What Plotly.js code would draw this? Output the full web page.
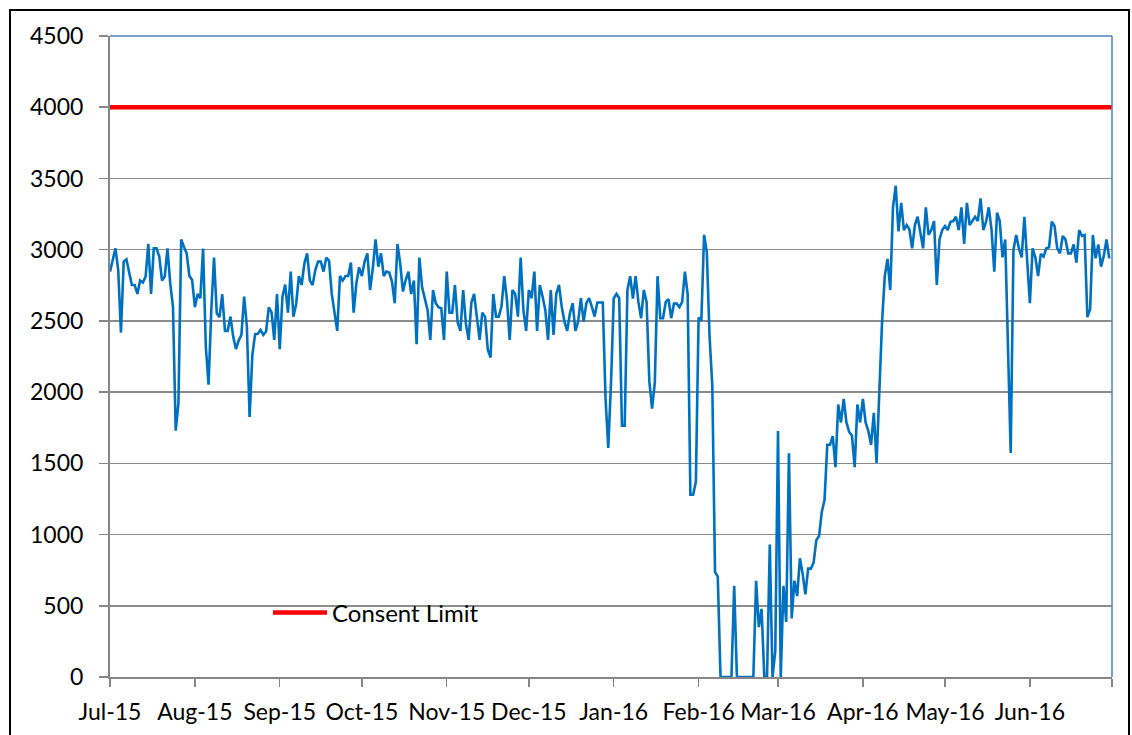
<!DOCTYPE html>
<html>
<head>
<meta charset="utf-8">
<script src="https://cdn.plot.ly/plotly-3.0.1.min.js"></script>
<style>
  html, body { margin: 0; padding: 0; background: #fff; }
  #chart { width: 1132px; height: 735px; }
</style>
</head>
<body>
<div id="chart"></div>
<script>
// ---- Data ----
const startDate = '2015-07-01';
const dailyValues = [
  2846, 2930, 3009, 2857, 2418, 2916, 2932, 2840, 2752, 2752,
  2689, 2783, 2769, 2811, 3040, 2689, 3009, 3009, 2951, 2783,
  2811, 3009, 2764, 2600, 1729, 1923, 3072, 3021, 2974, 2815,
  2787, 2596, 2689, 2659, 3007, 2320, 2052, 2577, 2944, 2554,
  2526, 2687, 2430, 2430, 2530, 2390, 2302, 2362, 2402, 2671,
  2460, 1825, 2262, 2407, 2409, 2437, 2402, 2425, 2594, 2561,
  2367, 2689, 2302, 2671, 2755, 2558, 2846, 2530, 2619, 2815,
  2752, 2904, 2974, 2783, 2752, 2857, 2916, 2916, 2846, 2944,
  2923, 2689, 2554, 2430, 2815, 2783, 2815, 2815, 2909, 2558,
  2764, 2876, 2815, 2916, 2974, 2717, 2869, 3072, 2881, 2974,
  2815, 2846, 2839, 2776, 2624, 3040, 2904, 2706, 2787, 2846,
  2689, 2783, 2337, 2944, 2736, 2647, 2577, 2367, 2717, 2624,
  2596, 2589, 2367, 2846, 2558, 2558, 2752, 2488, 2430, 2717,
  2479, 2367, 2629, 2689, 2530, 2367, 2558, 2530, 2297, 2243,
  2689, 2530, 2530, 2600, 2815, 2647, 2367, 2717, 2689, 2530,
  2944, 2577, 2430, 2717, 2659, 2846, 2430, 2752, 2671, 2577,
  2367, 2717, 2402, 2689, 2752, 2600, 2495, 2430, 2554, 2624,
  2430, 2495, 2659, 2495, 2624, 2659, 2600, 2530, 2629, 2629,
  2629, 1958, 1608, 2063, 2659, 2689, 2659, 1764, 1764, 2717,
  2814, 2657, 2814, 2633, 2519, 2717, 2633, 2077, 1884, 2065,
  2814, 2519, 2519, 2633, 2652, 2519, 2621, 2621, 2597, 2633,
  2846, 2687, 1280, 1280, 1370, 2524, 2500, 3104, 2983, 2391,
  2045, 737, 705, 0, 0, 0, 0, 0, 640, 0,
  0, 0, 0, 0, 0, 0, 676, 350, 478, 0,
  0, 930, 0, 181, 1727, 0, 640, 386, 1570, 411,
  676, 568, 833, 725, 580, 761, 761, 802, 961, 990,
  1159, 1244, 1630, 1630, 1691, 1473, 1913, 1787, 1952, 1787,
  1720, 1696, 1473, 1913, 1787, 1952, 1787, 1727, 1630, 1855,
  1502, 2005, 2488, 2814, 2935, 2717, 3297, 3449, 3128, 3329,
  3138, 3173, 3142, 3009, 3173, 3231, 3103, 3009, 3297, 3103,
  3138, 3201, 2752, 3072, 3138, 3166, 3138, 3196, 3201, 3231,
  3138, 3297, 3040, 3329, 3173, 3201, 3231, 3201, 3360, 3138,
  3196, 3297, 3138, 2846, 3259, 3201, 2946, 3072, 2390, 1573,
  2998, 3103, 3009, 2946, 3231, 2928, 2624, 3009, 2946, 2815,
  2970, 2951, 3009, 3016, 3196, 3166, 3009, 2974, 3096, 3072,
  2974, 2974, 3037, 2909, 3138, 3096, 3103, 2526, 2582, 3103,
  2939, 3037, 2881, 2956, 3072, 2939
];
const limitName = 'Consent Limit';
const limitDates = ['2015-07-01', '2016-07-01'];
const limitValues = [4000, 4000];
const monthTickDates = ['2015-07-01','2015-08-01','2015-09-01','2015-10-01','2015-11-01','2015-12-01',
  '2016-01-01','2016-02-01','2016-03-01','2016-04-01','2016-05-01','2016-06-01','2016-07-01'];
const monthTickLabels = ['Jul-15','Aug-15','Sep-15','Oct-15','Nov-15','Dec-15',
  'Jan-16','Feb-16','Mar-16','Apr-16','May-16','Jun-16',''];
const yTickValues = [0, 500, 1000, 1500, 2000, 2500, 3000, 3500, 4000, 4500];

// daily dates derived from start date
function dayString(i) {
  const d = new Date(Date.parse(startDate + 'T00:00:00Z') + i * 86400000);
  return d.toISOString().slice(0, 10);
}
const dailyDates = dailyValues.map((_, i) => dayString(i));

// ---- Layout geometry ----
const W = 1132, H = 735;
const M = { l: 110, r: 20, t: 36, b: 58 };
const pw = W - M.l - M.r, ph = H - M.t - M.b;
const px = x => (x - M.l) / pw;
const py = y => (H - M.b - y) / ph;

const FONT = 'Lato, "Open Sans", sans-serif';
const FS = 23;

const traces = [
  {
    x: dailyDates, y: dailyValues, type: 'scatter', mode: 'lines',
    line: { color: '#0070C0', width: 2.6 }, showlegend: false, name: 'Daily'
  },
  {
    x: limitDates, y: limitValues, type: 'scatter', mode: 'lines',
    line: { color: '#FF0000', width: 4.5 }, name: limitName, showlegend: true
  }
];

const layout = {
  width: W, height: H,
  margin: M,
  paper_bgcolor: '#ffffff', plot_bgcolor: '#ffffff',
  font: { family: FONT, size: FS, color: '#000000' },
  showlegend: true,
  legend: {
    x: px(268), y: py(613), xanchor: 'left', yanchor: 'middle',
    itemwidth: 54,
    bgcolor: 'rgba(0,0,0,0)', font: { family: FONT, size: 24, color: '#000' },
    borderwidth: 0
  },
  xaxis: {
    type: 'date',
    range: ['2015-07-01', '2016-07-01'],
    tickmode: 'array', tickvals: monthTickDates, ticktext: monthTickLabels,
    ticks: 'outside', ticklen: 8, tickwidth: 1.5, tickcolor: '#868686',
    showline: true, linecolor: '#868686', linewidth: 2,
    showgrid: false, zeroline: false,
    tickfont: { family: FONT, size: FS, color: '#000' },
    ticklabelstandoff: 5
  },
  yaxis: {
    range: [0, 4500],
    tickmode: 'array', tickvals: yTickValues,
    ticks: 'outside', ticklen: 9, tickwidth: 1.5, tickcolor: '#868686',
    showline: true, linecolor: '#868686', linewidth: 2,
    showgrid: true, gridcolor: '#8C8C8C', gridwidth: 1.5,
    zeroline: false,
    tickfont: { family: FONT, size: FS, color: '#000' },
    ticklabelstandoff: 11
  },
  shapes: [
    { type: 'line', xref: 'paper', yref: 'paper', x0: 0, x1: 1, y0: 1, y1: 1,
      line: { color: '#4F81BD', width: 1.5 } },
    { type: 'line', xref: 'paper', yref: 'paper', x0: 1, x1: 1, y0: 0, y1: 1,
      line: { color: '#4F81BD', width: 1.5 } },
    { type: 'rect', xref: 'paper', yref: 'paper',
      x0: px(10), x1: px(1129), y0: py(745), y1: py(10),
      line: { color: '#000000', width: 2 }, fillcolor: 'rgba(0,0,0,0)' }
  ]
};

Plotly.newPlot('chart', traces, layout, { staticPlot: true, displayModeBar: false });
</script>
</body>
</html>
